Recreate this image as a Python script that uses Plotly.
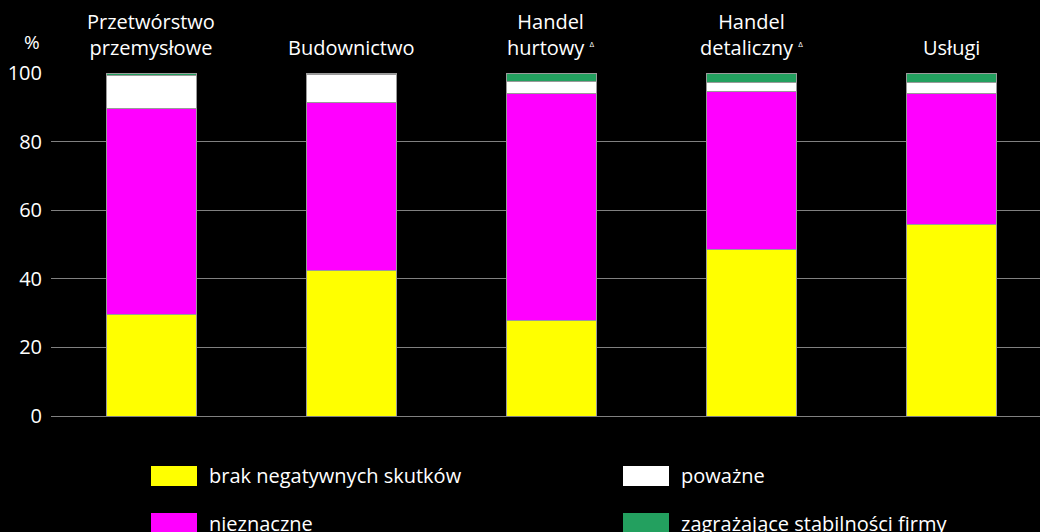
import plotly.graph_objects as go

categories = ["Przetwórstwo<br>przemysłowe", "Budownictwo",
              "Handel<br>hurtowy <sup><span style='font-size:8px'>Δ</span></sup>",
              "Handel<br>detaliczny <sup><span style='font-size:8px'>Δ</span></sup>",
              "Usługi"]
cat_keys = ["c1", "c2", "c3", "c4", "c5"]

series_names = ["brak negatywnych skutków", "nieznaczne", "poważne",
                "zagrażające stabilności firmy"]
brak = [29.6, 42.5, 27.7, 48.4, 55.7]
nieznaczne = [60.0, 49.0, 66.2, 46.3, 38.4]
powazne = [9.8, 8.1, 3.5, 2.5, 3.1]
zagrazajace = [0.6, 0.4, 2.6, 2.8, 2.8]
series_values = [brak, nieznaczne, powazne, zagrazajace]
colors = ["#FFFF00", "#FF00FF", "#FFFFFF", "#23A05F"]

y_ticks = [0, 20, 40, 60, 80, 100]

FONT = "Open Sans"
W, H = 1040, 532
L, R, T, B = 51, 0, 73, 116
PW, PH = W - L - R, H - T - B


def px_x(x):
    return (x - L) / PW


def px_y(y):
    return (H - B - y) / PH


fig = go.Figure()
for name, vals, col in zip(series_names, series_values, colors):
    fig.add_trace(go.Bar(
        x=cat_keys, y=vals, name=name, width=0.45,
        marker=dict(color=col, line=dict(color="#9a9a9a", width=1)),
        showlegend=False,
    ))

annotations = []
for key, label in zip(cat_keys, categories):
    annotations.append(dict(
        x=key, xref="x", y=1, yref="paper", yanchor="bottom", xanchor="center",
        yshift=10, text=label, showarrow=False,
        font=dict(family=FONT, size=20, color="white"),
    ))
annotations.append(dict(
    x=0, xref="paper", xanchor="right", xshift=-9, y=1, yref="paper",
    yanchor="bottom", yshift=16, text="%", showarrow=False,
    font=dict(family=FONT, size=19, color="white"),
))

# custom legend: two columns, row-wise order
legend_order = [0, 2, 1, 3]
col_x = [151, 623]
row_y = [466, 513]
shapes = []
for i, si in enumerate(legend_order):
    r, c = divmod(i, 2)
    x0, y0 = col_x[c], row_y[r]
    shapes.append(dict(
        type="rect", xref="paper", yref="paper",
        x0=px_x(x0), x1=px_x(x0 + 46), y0=px_y(y0), y1=px_y(y0 + 20),
        fillcolor=colors[si], line=dict(width=0), layer="above",
    ))
    annotations.append(dict(
        x=px_x(x0 + 56), xref="paper", xanchor="left",
        y=px_y(y0 + 10), yref="paper", yanchor="middle",
        text=series_names[si], showarrow=False,
        font=dict(family=FONT, size=20, color="white"),
    ))

fig.update_layout(
    width=W, height=H,
    margin=dict(l=L, r=R, t=T, b=B),
    paper_bgcolor="black", plot_bgcolor="black",
    barmode="stack",
    font=dict(family=FONT, color="white"),
    xaxis=dict(range=[-0.5, 4.445], showticklabels=False, showgrid=False,
               zeroline=False, showline=False, fixedrange=True),
    yaxis=dict(range=[0, 100], tickvals=y_ticks, showgrid=True,
               gridcolor="#808080", gridwidth=1, zeroline=True,
               zerolinecolor="#808080", zerolinewidth=1,
               ticklabelstandoff=8, fixedrange=True,
               tickfont=dict(family=FONT, size=20, color="white")),
    annotations=annotations,
    shapes=shapes,
)

fig.write_html("out.html",
               config={"displayModeBar": False},
               post_script="document.body.style.margin='0';"
                           "document.body.style.background='black';")
